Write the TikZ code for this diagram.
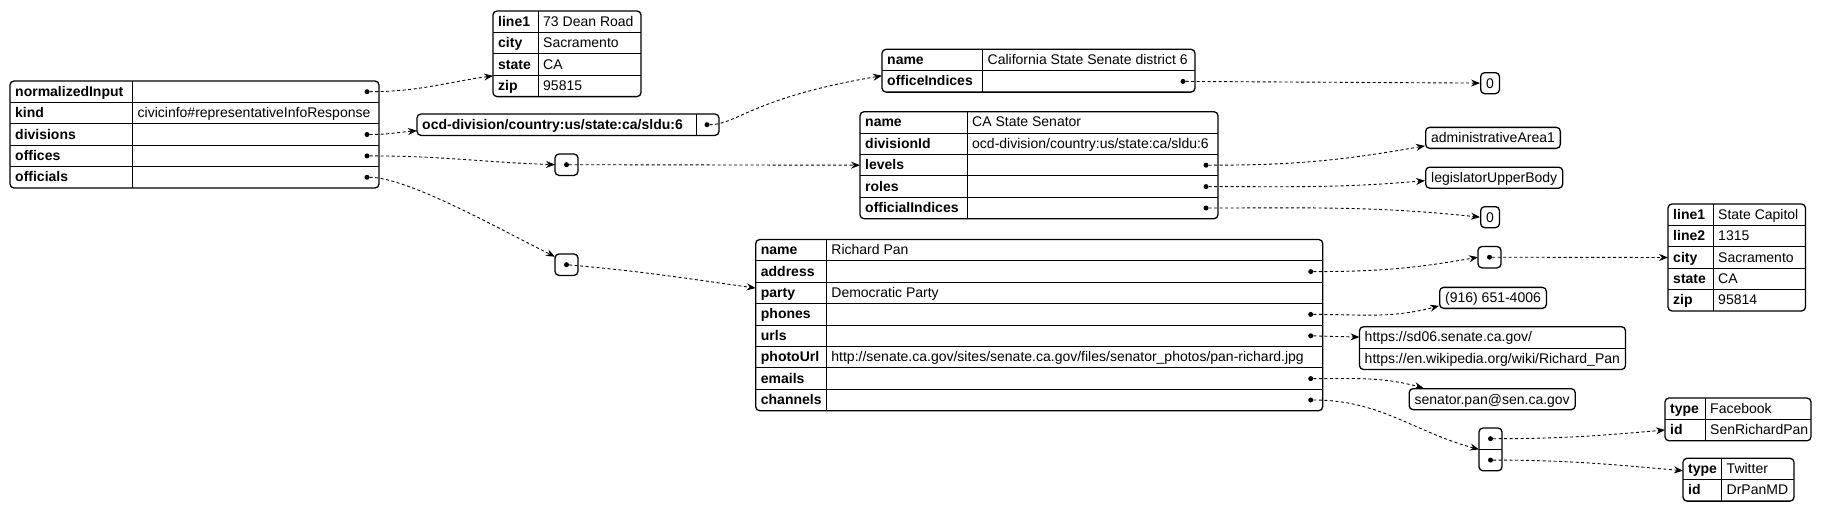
\documentclass[tikz,border=0pt]{standalone}
\usepackage{fontspec}
\setmainfont{Liberation Sans}
\usetikzlibrary{arrows.meta}

\newcommand{\jfont}{\fontsize{14}{17}\selectfont}
\def\rowh{21.4}

\tikzset{
  jframe/.style={draw,line width=1.3pt,rounded corners=4pt,inner sep=0pt,outer sep=0pt,anchor=north west},
  jarr/.style={jframe,minimum width=23pt,minimum height=\rowh},
  jline/.style={line width=0.9pt},
  jkey/.style={anchor=base west,inner sep=0pt,font=\jfont\bfseries},
  jval/.style={anchor=base west,inner sep=0pt,font=\jfont},
  jdot/.style={circle,fill,inner sep=0pt,minimum size=5pt},
  jleaf/.style={draw,line width=1.3pt,rounded corners=4pt,anchor=north west,inner xsep=5.5pt,inner ysep=2.5pt,
    text height=13pt,text depth=3pt,font=\jfont},
  jlink/.style={line width=0.9pt,dash pattern=on 3pt off 2.5pt,-{Stealth[length=9pt,width=7pt,inset=3pt]}}
}

%% key/value table: name, left, top, key width, width, rows
\newcommand{\jtable}[6]{%
  \foreach \k/\v [count=\i] in {#6} {
    \ifnum\i>1
      \draw[jline] (#2,{#3+(\i-1)*\rowh}) -- ({#2+#5},{#3+(\i-1)*\rowh});
    \fi
    \node[jkey] (#1-k\i) at ({#2+5},{#3+(\i-0.5)*\rowh+4.5}) {\k};
    \node[jval] (#1-v\i) at ({#2+#4+5},{#3+(\i-0.5)*\rowh+4.5}) {\v};
    \xdef\jrows{\i}
  }
  \draw[jline] ({#2+#4},#3) -- ({#2+#4},{#3+\jrows*\rowh});
  \node[jframe,minimum width=#5,minimum height=\jrows*\rowh] (#1) at (#2,#3) {};
}
%% dots at the right end of some rows
\newcommand{\jdots}[2]{%
  \foreach \d in {#2}
    \node[jdot] (#1-\d) at ([xshift=-12pt,yshift={-(\d-0.5)*\rowh}]#1.north east) {};
}

\begin{document}
\begin{tikzpicture}[x=1pt,y=-1pt]
  \fill[white] (0,0) rectangle (1823,512);
  \useasboundingbox (0,0) rectangle (1823,512);

  %% root object
  \jtable{root}{10}{81}{122.5}{369}{normalizedInput/{}, kind/civicinfo\#representativeInfoResponse,
    divisions/{}, offices/{}, officials/{}}
  \jdots{root}{1,3,4,5}

  %% normalized input
  \jtable{addr1}{493}{11}{45}{148}{line1/73 Dean Road, city/Sacramento, state/CA, zip/95815}

  %% divisions
  \jtable{div}{417}{114}{279}{302}{{ocd-division/country:us/state:ca/sldu:6}/{}}
  \jdots{div}{1}
  \jtable{offc}{882}{49.3}{100.5}{313}{name/California State Senate district 6, officeIndices/{}}
  \jdots{offc}{2}
  \node[jleaf] (zero1) at (1480,72) {0};

  %% offices
  \node[jarr] (arrOff) at (555,154) {};
  \node[jdot] (arrOff-1) at (arrOff.center) {};
  \jtable{office}{860}{111.7}{107}{358}{name/CA State Senator,
    divisionId/{ocd-division/country:us/state:ca/sldu:6}, levels/{}, roles/{}, officialIndices/{}}
  \jdots{office}{3,4,5}
  \node[jleaf] (aa) at (1425,126.7) {administrativeArea1};
  \node[jleaf] (lub) at (1425,166.5) {legislatorUpperBody};
  \node[jleaf] (zero2) at (1480,206) {0};

  %% officials
  \node[jarr] (arrOffl) at (555,254) {};
  \node[jdot] (arrOffl-1) at (arrOffl.center) {};
  \jtable{offl}{755.7}{239.5}{70.5}{567}{name/Richard Pan, address/{}, party/Democratic Party,
    phones/{}, urls/{},
    photoUrl/{http://senate.ca.gov/sites/senate.ca.gov/files/senator\_photos/pan-richard.jpg},
    emails/{}, channels/{}}
  \jdots{offl}{2,4,5,7,8}

  \node[jarr] (arrAddr) at (1478,246.5) {};
  \node[jdot] (arrAddr-1) at (arrAddr.center) {};
  \jtable{addr2}{1668}{204}{45}{137.5}{line1/State Capitol, line2/1315, city/Sacramento,
    state/CA, zip/95814}

  \node[jleaf] (phone) at (1439,286.7) {(916) 651-4006};

  \node[jframe,minimum width=266,minimum height=2*\rowh] (urls) at (1359.5,326.7) {};
  \draw[jline] (urls.west) -- (urls.east);
  \node[jval] (urls-v1) at (1364.5,{326.7+0.5*\rowh+4.5}) {https://sd06.senate.ca.gov/};
  \node[jval] (urls-v2) at (1364.5,{326.7+1.5*\rowh+4.5}) {https://en.wikipedia.org/wiki/Richard\_Pan};

  \node[jleaf] (email) at (1408.5,388) {senator.pan@sen.ca.gov};

  \node[jarr,minimum height=2*\rowh] (arrCh) at (1479,428) {};
  \draw[jline] (arrCh.west) -- (arrCh.east);
  \node[jdot] (arrCh-1) at ([yshift=10.7pt]arrCh.center) {};
  \node[jdot] (arrCh-2) at ([yshift=-10.7pt]arrCh.center) {};
  \jtable{fb}{1665}{398}{40}{146}{type/Facebook, id/SenRichardPan}
  \jtable{tw}{1683}{458.3}{38.5}{111}{type/Twitter, id/DrPanMD}

  %% links
  \draw[jlink] (root-1) to[out=0,in=188] ([yshift=-22pt]addr1.west);
  \draw[jlink] (root-3) to[out=0,in=185] ([yshift=-6pt]div.west);
  \draw[jlink] (div-1) .. controls +(30,0) and +(-130,22) .. ([yshift=-5pt]offc.west);
  \draw[jlink] (offc-2) -- (zero1);
  \draw[jlink] (root-4) to[out=0,in=178] (arrOff.west);
  \draw[jlink] (arrOff-1) -- (office.west);
  \draw[jlink] (office-3) to[out=0,in=190] ([yshift=-8pt]aa.west);
  \draw[jlink] (office-4) to[out=0,in=185] ([yshift=-3pt]lub.west);
  \draw[jlink] (office-5) to[out=0,in=174] (zero2.west);
  \draw[jlink] (root-5) .. controls +(40,0) and +(-60,-30) .. ([yshift=8pt]arrOffl.west);
  \draw[jlink] (arrOffl-1) to[out=-5,in=172] ([yshift=37pt]offl.west);
  \draw[jlink] (offl-2) to[out=0,in=190] (arrAddr.west);
  \draw[jlink] (arrAddr-1) -- (addr2.west);
  \draw[jlink] (offl-4) to[out=0,in=195] ([yshift=-8pt]phone.west);
  \draw[jlink] (offl-5) -- ([yshift=11pt]urls.west);
  \draw[jlink] (offl-7) to[out=0,in=165] ([xshift=15pt]email.north west);
  \draw[jlink] (offl-8) to[out=0,in=165] (arrCh.west);
  \draw[jlink] (arrCh-1) to[out=0,in=185] ([yshift=-10.6pt]fb.west);
  \draw[jlink] (arrCh-2) to[out=0,in=175] ([yshift=9pt]tw.west);
\end{tikzpicture}
\end{document}
